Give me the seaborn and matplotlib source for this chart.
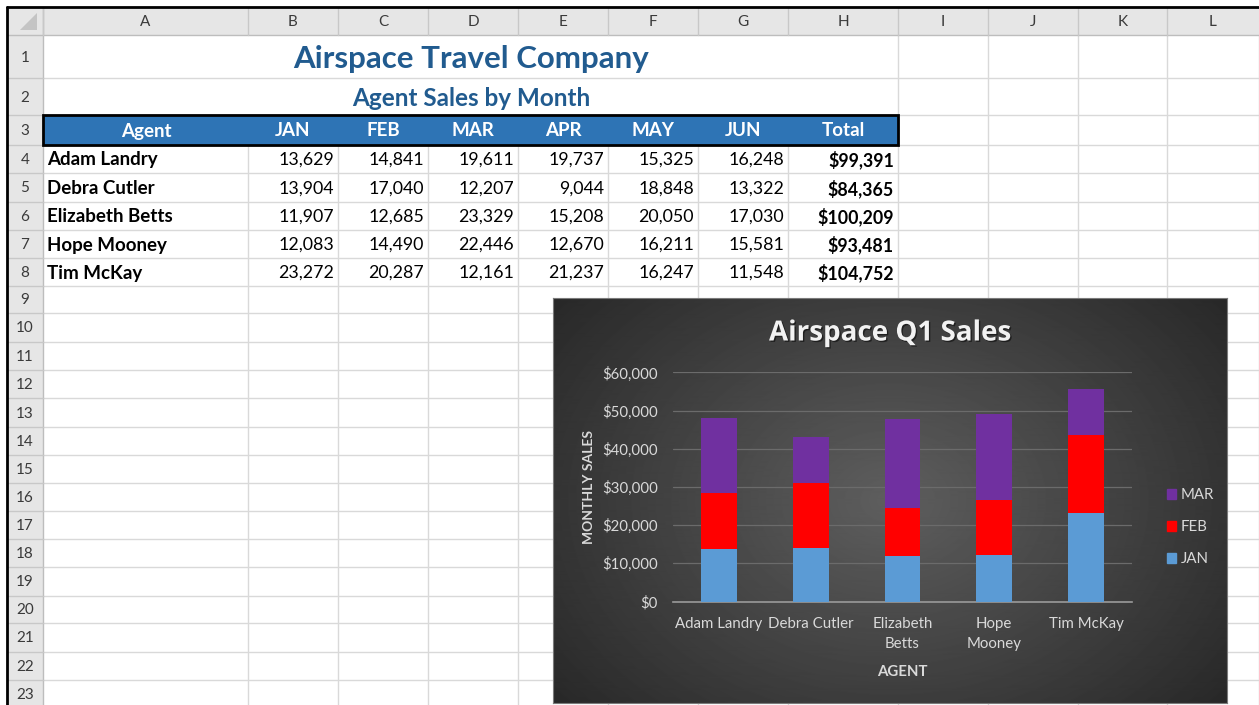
import numpy as np
import pandas as pd
import matplotlib.pyplot as plt
import seaborn as sns
from matplotlib.patches import Rectangle, Polygon, Patch
import matplotlib.patheffects as pe

# sheet data
agents = ["Adam Landry", "Debra Cutler", "Elizabeth Betts", "Hope Mooney", "Tim McKay"]
months = ["JAN", "FEB", "MAR", "APR", "MAY", "JUN"]
jan = [13629, 13904, 11907, 12083, 23272]
feb = [14841, 17040, 12685, 14490, 20287]
mar = [19611, 12207, 23329, 22446, 12161]
apr = [19737, 9044, 15208, 12670, 21237]
may = [15325, 18848, 20050, 16211, 16247]
jun = [16248, 13322, 17030, 15581, 11548]
chart_labels = ["Adam Landry", "Debra Cutler", "Elizabeth\nBetts", "Hope\nMooney", "Tim McKay"]
col_letters = ["A", "B", "C", "D", "E", "F", "G", "H", "I", "J", "K", "L"]
y_ticks = [0, 10000, 20000, 30000, 40000, 50000, 60000]

sns.set_theme(style="white")
plt.rcParams['font.family'] = ['Lato', 'DejaVu Sans']

W, H = 1259, 705
fig = plt.figure(figsize=(W / 100, H / 100), dpi=100)

# ---------- spreadsheet background (pixel coords) ----------
sheet = fig.add_axes([0, 0, 1, 1])
sheet.set_xlim(0, W)
sheet.set_ylim(H, 0)
sheet.axis("off")

col_edges = [43, 248, 338, 428, 518, 608, 698, 788, 898, 988, 1078, 1167, 1259]
row_edges = [35, 78, 115, 145, 173, 202, 230, 258, 286, 313, 342, 370, 398, 427,
             455, 483, 511, 539, 567, 596, 623, 652, 680, 708]
grid_c = "#d9d9d9"
hdr_bg = "#e6e6e6"
hdr_line = "#bdbdbd"

# column + row headers
sheet.add_patch(Rectangle((8, 8), W - 8, 27, color=hdr_bg, lw=0))
sheet.add_patch(Rectangle((8, 8), 35, H - 8, color=hdr_bg, lw=0))
sheet.add_patch(Polygon([[37, 13], [37, 30], [20, 30]], closed=True, color="#c4c4c4", lw=0))
sheet.plot([8, W], [35, 35], color=hdr_line, lw=1)
sheet.plot([43, 43], [8, H], color=hdr_line, lw=1)
for x in col_edges[:-1]:
    sheet.plot([x, x], [8, 35], color="#c8c8c8", lw=1)
for i, c in enumerate(col_letters):
    xm = (col_edges[i] + col_edges[i + 1]) / 2
    sheet.text(xm, 22, c, ha="center", va="center", fontsize=11, color="#3a3a3a")
for r in range(len(row_edges) - 1):
    sheet.plot([8, 43], [row_edges[r + 1], row_edges[r + 1]], color="#c8c8c8", lw=1)
    ym = (row_edges[r] + row_edges[r + 1]) / 2
    sheet.text(25, ym + 1, str(r + 1), ha="center", va="center", fontsize=11, color="#3a3a3a")

# black frame of the screenshot
sheet.plot([7, W], [7, 7], color="black", lw=2)
sheet.plot([7, 7], [7, H], color="black", lw=2)

# gridlines
for y in row_edges[1:]:
    sheet.plot([43, W], [y, y], color=grid_c, lw=1, zorder=0.5)
for x in col_edges[1:]:
    y0 = 35 if x >= 898 else 145
    sheet.plot([x, x], [y0, H], color=grid_c, lw=1, zorder=0.5)

# titles
title_c = "#215b8f"
sheet.text(471, 59, "Airspace Travel Company", ha="center", va="center",
           fontsize=22.5, fontweight="bold", color=title_c)
sheet.text(471, 98, "Agent Sales by Month", ha="center", va="center",
           fontsize=17.5, fontweight="bold", color=title_c)

# header row 3
sheet.add_patch(Rectangle((43, 115), 855, 30, facecolor="#2e74b5", edgecolor="black", lw=2, zorder=2))
sheet.text(146, 131, "Agent", ha="center", va="center", fontsize=13.5, fontweight="bold", color="white", zorder=3)
for i, m in enumerate(months + ["Total"]):
    xm = (col_edges[i + 1] + col_edges[i + 2]) / 2
    sheet.text(xm, 131, m, ha="center", va="center", fontsize=13.5, fontweight="bold", color="white", zorder=3)

# data rows
month_vals = [jan, feb, mar, apr, may, jun]
for r, name in enumerate(agents):
    ym = (row_edges[r + 3] + row_edges[r + 4]) / 2 + 1
    sheet.text(47, ym, name, ha="left", va="center", fontsize=13.5, fontweight="bold", color="black")
    total = 0
    for j, vals in enumerate(month_vals):
        total += vals[r]
        sheet.text(col_edges[j + 2] - 4, ym, f"{vals[r]:,}", ha="right", va="center",
                   fontsize=12.8, color="black")
    sheet.text(col_edges[8] - 4, ym, f"${total:,}", ha="right", va="center",
               fontsize=12.8, fontweight="bold", color="black")

# ---------- chart ----------
cx0, cy0, cw, ch = 553, 298, 674, 405
bg = fig.add_axes([cx0 / W, 1 - (cy0 + ch) / H, cw / W, ch / H])
yy, xx = np.mgrid[0:ch, 0:cw]
rr = np.sqrt(((xx - cw * 0.5) / (cw * 0.6)) ** 2 + ((yy - ch * 0.5) / (ch * 0.75)) ** 2)
shade = np.clip(0.37 - 0.2 * rr, 0, 1)
bg.imshow(shade, cmap="gray", vmin=0, vmax=1, aspect="auto", interpolation="bilinear")
bg.set_xticks([])
bg.set_yticks([])
for s in bg.spines.values():
    s.set_color("#7a7a7a")
    s.set_linewidth(0.8)

bg.text(0.5, 1 - (333 - cy0) / ch, "Airspace Q1 Sales", transform=bg.transAxes,
        ha="center", va="center", fontsize=20, fontweight="bold", color="#f2f2f2",
        family=["Open Sans", "DejaVu Sans"],
        path_effects=[pe.withSimplePatchShadow(offset=(1, -1), shadow_rgbFace="black", alpha=0.5)])

px0, px1, py0, py1 = 673, 1132, 372.5, 601.5
ax = fig.add_axes([px0 / W, 1 - py1 / H, (px1 - px0) / W, (py1 - py0) / H])
ax.set_facecolor("none")

df = pd.DataFrame({"agent": chart_labels, "JAN": jan, "FEB": feb, "MAR": mar})
df["FEB_top"] = df["JAN"] + df["FEB"]
df["MAR_top"] = df["FEB_top"] + df["MAR"]

c_mar, c_feb, c_jan = "#7030a0", "#ff0000", "#5b9bd5"
for col, colr in [("MAR_top", c_mar), ("FEB_top", c_feb), ("JAN", c_jan)]:
    sns.barplot(data=df, x="agent", y=col, color=colr, width=0.39, saturation=1,
                errorbar=None, linewidth=0, ax=ax, zorder=3)

ax.set_xlim(-0.5, 4.5)
ax.set_ylim(0, 60000)
ax.set_yticks(y_ticks)
ax.set_yticklabels([f"${v:,}" for v in y_ticks])
ax.grid(axis="y", color="#6b6b6b", lw=0.9, zorder=0)
ax.grid(axis="x", visible=False)
for k in ["top", "right", "left"]:
    ax.spines[k].set_visible(False)
ax.spines["bottom"].set_color("#9a9a9a")
ax.spines["bottom"].set_linewidth(1.2)
ax.tick_params(axis="both", length=0, colors="#d9d9d9", labelsize=10.8)
ax.tick_params(axis="y", pad=11)
ax.tick_params(axis="x", pad=11)
for t in ax.get_xticklabels():
    t.set_linespacing(1.6)
ax.set_xlabel("AGENT", color="#d9d9d9", fontsize=10.8, fontweight="bold", labelpad=10)
ax.set_ylabel("MONTHLY SALES", color="#d9d9d9", fontsize=10, fontweight="bold", labelpad=5)

handles = [Patch(color=c_mar, label="MAR"), Patch(color=c_feb, label="FEB"), Patch(color=c_jan, label="JAN")]
leg = ax.legend(handles=handles, loc="center left", bbox_to_anchor=(1159 / W, 1 - 527 / H),
                bbox_transform=fig.transFigure, frameon=False, fontsize=10.8,
                handlelength=0.65, handleheight=0.65, handletextpad=0.3, labelspacing=1.2,
                borderpad=0)
for t in leg.get_texts():
    t.set_color("#d9d9d9")

fig.savefig("out.png", dpi=100)
